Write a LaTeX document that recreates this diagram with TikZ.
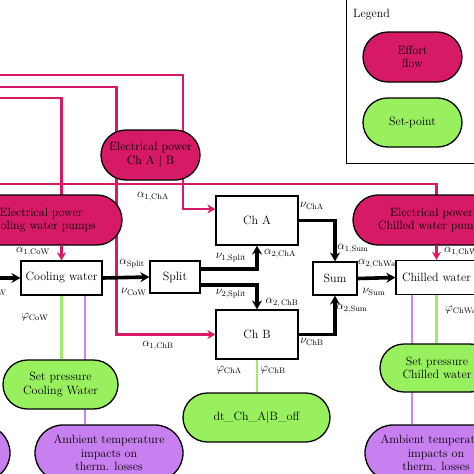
\documentclass[tikz,border=0pt]{standalone}
\usetikzlibrary{shapes.misc,arrows.meta,calc}
\definecolor{pinkc}{RGB}{214,26,102}
\definecolor{greenc}{RGB}{153,240,94}
\definecolor{purplec}{RGB}{200,128,240}
\definecolor{greenl}{RGB}{160,236,110}
\definecolor{purplel}{RGB}{196,140,236}
\newcommand\ndfont{\fontsize{12}{13.5}\selectfont}
\newcommand\lbfont{\fontsize{11.5}{13}\selectfont}
\pgfdeclarelayer{bg}
\pgfsetlayers{bg,main}
\tikzset{
  oval/.style={rounded rectangle, draw=black, line width=1.3pt, align=center, font=\ndfont, inner sep=0pt, minimum height=50pt},
  effort/.style={oval, fill=pinkc},
  setpt/.style={oval, fill=greenc},
  ambient/.style={oval, fill=purplec},
  block/.style={rectangle, draw=black, line width=1.2pt, fill=white, align=center, font=\ndfont, inner sep=0pt},
  pinkline/.style={draw=pinkc, line width=2.8pt},
  parrow/.style={pinkline, -{Stealth[length=8pt,width=9pt,inset=2.5pt]}},
  barrow/.style={draw=black, line width=3.6pt, -{Stealth[length=9pt,width=10pt,inset=3pt]}},
  gline/.style={draw=greenl, line width=2.8pt},
  pline/.style={draw=purplel, line width=2.8pt},
  lbl/.style={font=\lbfont, inner sep=0pt}
}
\begin{document}
\begin{tikzpicture}[x=1pt,y=-1pt]
\useasboundingbox (0,0) rectangle (474,474);
% legend
\node[draw=black, line width=1.2pt, fill=white, minimum width=140pt, minimum height=166pt, anchor=north west, inner sep=0pt] (legendbox) at (346,-3) {};
\node[anchor=west, font=\ndfont, inner sep=0pt] (legendtitle) at (353,15) {Legend};
\node[effort, minimum width=99pt] (legE) at (412.5,57) {Effort\\flow};
\node[setpt, minimum width=99pt, minimum height=49pt] (legS) at (412.5,122.5) {Set-point};
% effort nodes
\node[effort, minimum width=99pt] (ElecAB) at (150.5,155) {Electrical power\\Ch A \textbar\ B};
\node[effort, minimum width=162pt] (ElecCoW) at (41,220) {Electrical power\\Cooling water pumps};
\node[effort, minimum width=157pt] (ElecChW) at (431.5,220) {Electrical power\\Chilled water pumps};
% blocks
\node[block, minimum width=81pt, minimum height=34pt] (CoW) at (61.5,278) {Cooling water};
\node[block, minimum width=50pt, minimum height=32pt] (Split) at (175,277) {Split};
\node[block, minimum width=82pt, minimum height=49pt] (ChA) at (257,220.5) {Ch A};
\node[block, minimum width=82pt, minimum height=49pt] (ChB) at (257,334.5) {Ch B};
\node[block, minimum width=44pt, minimum height=33pt] (Sum) at (335,278.5) {Sum};
% label cut by chilled water box
\node[lbl, anchor=west] (la2chw) at (358,264) {$\alpha_{2,\mathrm{ChWater}}$};
\node[block, minimum width=81pt, minimum height=34pt] (ChW) at (436.5,277.5) {Chilled water};
% set points
\node[setpt, minimum width=115pt, minimum height=49pt] (SPCoW) at (60.5,384.5) {Set pressure\\Cooling Water};
\node[setpt, minimum width=114pt, minimum height=48pt] (SPChW) at (437,368) {Set pressure\\Chilled water};
\node[setpt, minimum width=147pt, minimum height=49pt] (dt) at (256.5,417.5) {dt\_Ch\_A\textbar B\_off};
% ambient
\node[ambient, minimum width=148pt, minimum height=56pt] (AmbL) at (109,453) {Ambient temperature\\impacts on\\therm. losses};
\node[ambient, minimum width=142pt, minimum height=56pt] (AmbR) at (436,453) {Ambient temperature\\impacts on\\therm. losses};
\node[ambient, minimum width=148pt, minimum height=56pt] (AmbFL) at (-64,453) {};
% coordinates
\coordinate (L1) at (0,75);
\coordinate (L2) at (0,87);
\coordinate (L3) at (0,98);
\coordinate (L4) at (0,184);
\coordinate (Lin) at (0,278);
\coordinate (pAB) at (183,155);
\coordinate (pcw) at ($(CoW.south)+(23.5,0)$);
\coordinate (pch) at ($(ChW.south)+(-24.5,0)$);
\begin{pgfonlayer}{bg}
\draw[pinkline] (L1) -| (pAB);
\draw[parrow] (L2) -| ($(ChB.west)+(-99,0)$) -- (ChB.west);
\draw[pinkline] (L3) -| (CoW |- ElecCoW);
\draw[pinkline] (L4) -| (ChW |- ElecChW);
\draw[parrow] (pAB) |- ($(ChA.west)+(0,-11.5)$);
\draw[parrow] (CoW |- ElecCoW.south) -- (CoW.north);
\draw[parrow] (ChW |- ElecChW.south) -- (ChW.north);
\draw[gline] (CoW.south) -- (CoW.south |- SPCoW.north);
\draw[pline] (pcw) -- (pcw |- AmbL.north);
\draw[gline] (ChB.south) -- (ChB.south |- dt.north);
\draw[gline] (ChW.south) -- (ChW.south |- SPChW.north);
\draw[pline] (pch) -- (pch |- AmbR.north);
\end{pgfonlayer}
% black flow arrows
\draw[barrow] (Lin) -- (CoW.west);
\draw[barrow] (CoW.east) -- (Split.west);
\draw[barrow] ($(Split.east)+(0,-8)$) -| (ChA.south);
\draw[barrow] ($(Split.east)+(0,8)$) -| (ChB.north);
\draw[barrow] (ChA.east) -| (Sum.north);
\draw[barrow] (ChB.east) -| (Sum.south);
\draw[barrow] (Sum.east) -- (ChW.west);
% labels
\node[lbl] (la1cha) at (153,197) {$\alpha_{1,\mathrm{ChA}}$};
\node[lbl] (la1cow) at (33,252) {$\alpha_{1,\mathrm{CoW}}$};
\node[lbl, anchor=east] (lnin) at (7,292) {$\nu_{\mathrm{CoW}}$};
\node[lbl] (lasplit) at (132,264) {$\alpha_{\mathrm{Split}}$};
\node[lbl] (lncow) at (134,292) {$\nu_{\mathrm{CoW}}$};
\node[lbl] (ln1split) at (231,258) {$\nu_{1,\mathrm{Split}}$};
\node[lbl] (la2cha) at (280,254) {$\alpha_{2,\mathrm{ChA}}$};
\node[lbl] (ln2split) at (231,294) {$\nu_{2,\mathrm{Split}}$};
\node[lbl] (la2chb) at (282,303) {$\alpha_{2,\,\mathrm{ChB}}$};
\node[lbl] (lncha) at (312,206) {$\nu_{\mathrm{ChA}}$};
\node[lbl] (la1sum) at (353,249) {$\alpha_{1,\mathrm{Sum}}$};
\node[lbl] (lnsum) at (374,292) {$\nu_{\mathrm{Sum}}$};
\node[lbl] (la2sum) at (352,309) {$\alpha_{2,\mathrm{Sum}}$};
\node[lbl] (lnchb) at (312,342) {$\nu_{\mathrm{ChB}}$};
\node[lbl] (la1chb) at (158,346) {$\alpha_{1,\mathrm{ChB}}$};
\node[lbl, anchor=west] (la1chw) at (444,252) {$\alpha_{1,\mathrm{ChWater}}$};
\node[lbl] (lpcow) at (35,317) {$\varphi_{\mathrm{CoW}}$};
\node[lbl] (lpcha) at (229,370) {$\varphi_{\mathrm{ChA}}$};
\node[lbl] (lpchb) at (273,370) {$\varphi_{\mathrm{ChB}}$};
\node[lbl, anchor=west] (lpchw) at (445,310) {$\varphi_{\mathrm{ChWater}}$};
\end{tikzpicture}
\end{document}
